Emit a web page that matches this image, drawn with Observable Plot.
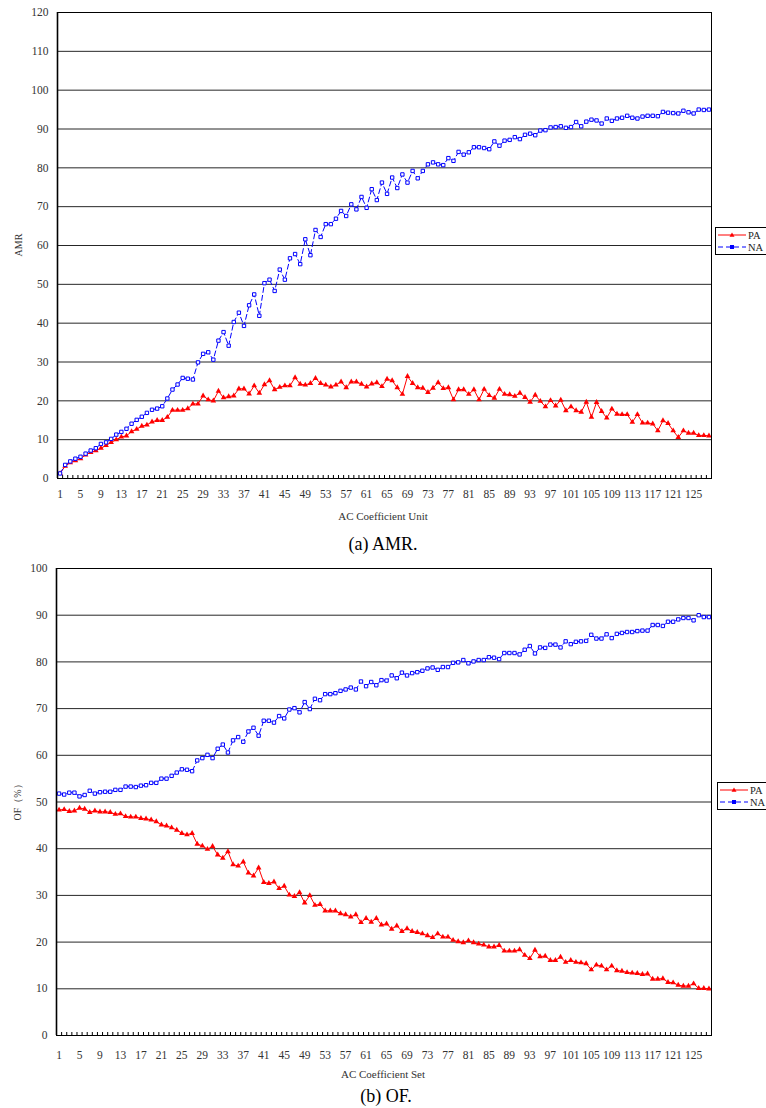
<!DOCTYPE html>
<html><head><meta charset="utf-8">
<script src="https://cdn.jsdelivr.net/npm/d3@7"></script>
<script src="https://cdn.jsdelivr.net/npm/@observablehq/plot@0.6"></script>
<style>
body{margin:0;background:#fff;}
#wrap{position:relative;width:766px;height:1108px;overflow:hidden;font-family:"Liberation Serif",serif;background:#fff;}
.abs{position:absolute;white-space:nowrap;}
.ytitle{font-size:10px;color:#333;transform:translate(-50%,-50%) rotate(-90deg);}
.xtitle{font-size:11px;color:#333;transform:translate(-50%,-50%);}
.cap{font-size:18px;color:#000;transform:translate(-50%,-50%);}
.legend{position:absolute;border:1px solid #000;background:#fff;width:70px;height:26px;}
</style></head><body><div id="wrap"></div>
<script>
// categories
const units = d3.range(1, 129);
const xTickLabels = d3.range(1, 126, 4);
const amrYTicks = d3.range(0, 121, 10);
const ofYTicks = d3.range(0, 101, 10);
const seriesNames = ["PA", "NA"];

// (a) AMR
const amrPA = [
 1.3,3.2,4.1,4.6,5.1,6.1,6.7,7.2,7.8,8.5,
 9.3,10.0,10.7,11.0,12.1,12.7,13.5,13.8,14.6,15.0,
 15.0,15.8,17.6,17.6,17.6,18.0,19.2,19.2,21.3,20.3,
 20.0,22.5,20.8,21.1,21.3,23.1,23.1,21.8,23.9,22.0,
 24.2,25.2,22.9,23.5,23.9,23.9,26.0,24.3,24.1,24.5,
 25.8,24.5,24.1,23.6,24.1,24.9,23.4,24.9,24.9,24.3,
 23.6,24.4,24.7,23.7,25.6,25.2,23.4,21.7,26.3,24.5,
 23.4,23.3,22.2,23.3,24.7,23.2,23.4,20.3,22.9,22.9,
 21.7,22.9,20.3,23.0,21.4,20.7,23.0,21.7,21.6,21.2,
 22.0,20.9,19.7,21.5,19.9,18.5,20.1,18.7,20.2,17.5,
 18.5,17.5,17.1,19.7,15.8,19.6,17.3,15.6,17.9,16.6,
 16.5,16.5,14.5,16.5,14.3,14.3,14.1,12.3,14.9,14.2,
 12.3,10.6,12.3,11.7,11.7,11.1,11.1,11.0
];
const amrNA = [
 1.3,3.5,4.4,5.1,5.6,6.4,7.2,7.8,8.9,9.3,
 10.2,11.3,12.0,12.8,14.1,15.1,15.9,16.9,17.7,18.0,
 18.6,20.6,22.9,24.2,25.9,25.7,25.5,29.9,32.1,32.5,
 30.6,35.5,37.7,34.2,40.3,42.7,39.3,44.6,47.4,41.9,
 50.3,51.2,48.3,53.8,51.2,56.7,57.8,55.2,61.6,57.5,
 64.0,62.2,65.5,65.5,66.9,68.9,67.6,70.6,69.3,72.5,
 69.7,74.5,71.7,76.2,73.3,77.5,74.8,78.3,76.2,79.2,
 77.3,79.2,80.9,81.4,80.9,80.7,82.5,81.8,84.1,83.4,
 84.0,85.3,85.3,85.1,84.8,86.8,85.7,87.0,87.2,87.9,
 87.4,88.5,88.8,88.4,89.6,89.7,90.4,90.5,90.7,90.3,
 90.5,91.8,90.7,91.9,92.4,92.2,91.4,92.7,92.1,92.7,
 92.9,93.4,92.9,92.7,93.2,93.4,93.4,93.3,94.4,94.2,
 94.1,94.0,94.7,94.3,94.0,95.0,94.9,95.0
];

// (b) OF
const ofPA = [
 48.3,48.4,48.0,48.1,48.7,48.5,47.8,48.1,47.9,47.9,
 47.8,47.4,47.5,46.9,46.8,46.8,46.5,46.4,46.2,45.8,
 45.1,44.9,44.5,44.0,43.3,43.0,43.3,41.0,40.6,39.9,
 40.5,38.7,38.0,39.4,36.6,36.3,37.2,34.8,34.2,35.9,
 32.8,32.6,32.9,31.5,32.0,30.1,29.8,30.6,28.4,30.0,
 27.9,28.1,26.7,26.7,26.7,26.1,25.9,25.4,25.9,24.2,
 25.1,24.3,25.1,23.7,23.9,22.8,23.5,22.3,22.9,22.3,
 22.1,21.8,21.4,21.0,21.8,21.1,21.1,20.4,20.1,19.9,
 20.3,19.9,19.6,19.4,19.0,19.0,19.3,18.1,18.1,18.1,
 18.4,17.2,16.5,18.3,16.9,17.0,16.1,16.1,16.8,15.7,
 16.1,15.7,15.6,15.4,14.1,15.1,14.9,14.1,14.9,13.9,
 13.8,13.5,13.4,13.3,13.1,13.2,12.1,12.1,12.2,11.4,
 11.3,10.8,10.6,10.6,11.1,10.1,10.1,10.0
];
const ofNA = [
 51.8,51.6,52.0,52.0,51.2,51.5,52.4,51.8,52.1,52.2,
 52.2,52.6,52.6,53.3,53.3,53.2,53.5,53.6,54.1,54.1,
 55.0,55.0,55.6,56.3,57.0,56.9,56.6,58.9,59.4,60.1,
 59.4,61.4,62.3,60.6,63.2,63.9,62.9,65.1,65.9,64.2,
 67.4,67.4,67.0,68.4,67.9,69.8,70.1,69.2,71.4,69.9,
 72.1,71.8,73.1,73.1,73.3,73.8,74.1,74.5,74.1,75.8,
 74.8,75.7,75.0,76.1,76.0,77.1,76.5,77.7,77.1,77.6,
 77.8,78.1,78.6,78.8,78.3,78.9,78.9,79.8,79.9,80.4,
 79.7,80.1,80.4,80.4,81.0,80.9,80.6,81.9,81.9,81.9,
 81.6,82.6,83.4,81.8,83.1,83.0,83.7,83.7,83.1,84.4,
 83.8,84.3,84.4,84.5,85.8,85.0,85.0,85.9,85.1,86.0,
 86.2,86.4,86.4,86.6,86.7,86.7,87.9,87.9,87.7,88.6,
 88.6,89.1,89.4,89.4,88.9,90.0,89.6,89.6
];

const wrap = document.getElementById("wrap");

function panel({pa, na, yMax, yTicks, top, height, marginTop, marginBottom, marginLeft, marginRight, labelPad}) {
  const paRows = units.map((u, k) => ({u, v: pa[k]}));
  const naRows = units.map((u, k) => ({u, v: na[k]}));
  const plotH = height - marginTop - marginBottom;
  const svg = Plot.plot({
    width: 766, height, marginTop, marginBottom, marginLeft, marginRight,
    style: {fontFamily: "Liberation Serif, serif", fontSize: "11.5px", color: "#333", background: "transparent", overflow: "visible"},
    x: {type: "linear", domain: [0.5, 128.5]},
    y: {domain: [0, yMax]},
    marks: [
      Plot.gridY(yTicks, {stroke: "#000", strokeOpacity: 0.85, strokeWidth: 1}),
      Plot.ruleX(d3.range(0.5, 129, 1), {stroke: "#000", strokeWidth: 1, insetTop: plotH - 3}),
      Plot.line(paRows, {x: "u", y: "v", stroke: "#ff0000", strokeWidth: 1}),
      Plot.dot(paRows, {x: "u", y: "v", symbol: "triangle", fill: "#ff0000", r: 2.1}),
      Plot.line(naRows, {x: "u", y: "v", stroke: "#0000ff", strokeWidth: 1, strokeDasharray: "5,3"}),
      Plot.dot(naRows, {x: "u", y: "v", symbol: "square", fill: "#fff", stroke: "#0000ff", strokeWidth: 1, r: 1.9}),
      Plot.frame({stroke: "#000", strokeWidth: 1}),
      Plot.ruleX([0.5], {stroke: "#000", strokeWidth: 1.6}),
      Plot.axisY(yTicks, {tickSize: 0, tickPadding: 9, label: null, fill: "#333"}),
      Plot.axisX(xTickLabels, {tickSize: 0, tickPadding: labelPad, label: null, fill: "#333", tickFormat: d => String(d)})
    ]
  });
  svg.style.position = "absolute";
  svg.style.left = "0px";
  svg.style.top = top + "px";
  wrap.appendChild(svg);
}

function addText(cls, txt, x, y) {
  const d = document.createElement("div");
  d.className = "abs " + cls;
  d.style.left = x + "px";
  d.style.top = y + "px";
  d.textContent = txt;
  wrap.appendChild(d);
}

function addLegend(x, y) {
  const box = document.createElement("div");
  box.className = "legend";
  box.style.left = x + "px";
  box.style.top = y + "px";
  const ns = "http://www.w3.org/2000/svg";
  const s = document.createElementNS(ns, "svg");
  s.setAttribute("width", "70"); s.setAttribute("height", "26");
  s.style.display = "block";
  const rows = [
    {name: seriesNames[0], color: "#ff0000", dash: null, y: 7, shape: "tri"},
    {name: seriesNames[1], color: "#0000ff", dash: "5,3", y: 19, shape: "sq"}
  ];
  for (const r of rows) {
    const l = document.createElementNS(ns, "line");
    l.setAttribute("x1", 2); l.setAttribute("x2", 30);
    l.setAttribute("y1", r.y); l.setAttribute("y2", r.y);
    l.setAttribute("stroke", r.color);
    if (r.dash) l.setAttribute("stroke-dasharray", r.dash);
    s.appendChild(l);
    if (r.shape === "tri") {
      const p = document.createElementNS(ns, "path");
      p.setAttribute("d", `M16,${r.y - 2.5}L18.5,${r.y + 1.8}L13.5,${r.y + 1.8}Z`);
      p.setAttribute("fill", r.color);
      s.appendChild(p);
    } else {
      const p = document.createElementNS(ns, "rect");
      p.setAttribute("x", 14); p.setAttribute("y", r.y - 2);
      p.setAttribute("width", 4); p.setAttribute("height", 4);
      p.setAttribute("fill", r.color);
      s.appendChild(p);
    }
    const t = document.createElementNS(ns, "text");
    t.setAttribute("x", 32); t.setAttribute("y", r.y + 3.5);
    t.setAttribute("font-family", "Liberation Serif, serif");
    t.setAttribute("font-size", "10.5");
    t.setAttribute("fill", "#222");
    t.textContent = r.name;
    s.appendChild(t);
  }
  box.appendChild(s);
  wrap.appendChild(box);
}

panel({pa: amrPA, na: amrNA, yMax: 120, yTicks: amrYTicks, top: 0, height: 518,
  marginTop: 12, marginBottom: 40, marginLeft: 57, marginRight: 55, labelPad: 11});
panel({pa: ofPA, na: ofNA, yMax: 100, yTicks: ofYTicks, top: 555, height: 520,
  marginTop: 13, marginBottom: 40, marginLeft: 56, marginRight: 55, labelPad: 15});

addText("ytitle", "AMR", 18, 245);
addText("xtitle", "AC Coefficient Unit", 383, 516);
addText("cap", "(a) AMR.", 383, 544);
addText("ytitle", "OF（%）", 18, 800);
addText("xtitle", "AC Coefficient Set", 383, 1074);
addText("cap", "(b) OF.", 386, 1096);
addLegend(715, 227);
addLegend(717, 782);
</script></body></html>
